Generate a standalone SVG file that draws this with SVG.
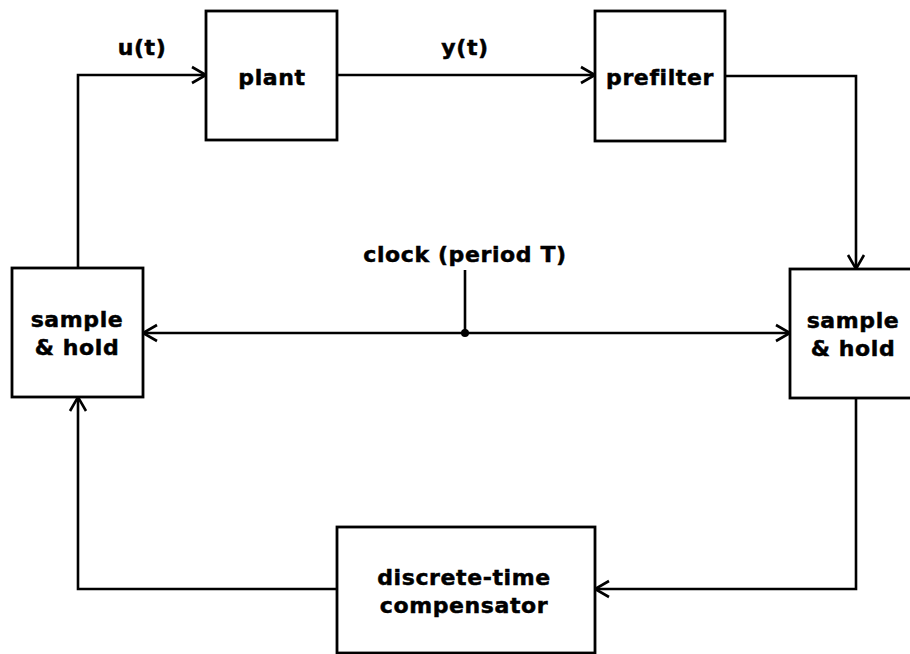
<svg xmlns="http://www.w3.org/2000/svg" width="910" height="654" viewBox="0 0 910 654">
<style>
.box{fill:#fff;stroke:#000;stroke-width:2.8}
.ln{fill:none;stroke:#000;stroke-width:2.6}
.t{font-family:"DejaVu Sans","Liberation Sans",sans-serif;font-weight:bold;font-size:22px;letter-spacing:0.6px;fill:#000;stroke:#000;stroke-width:0.5;text-anchor:middle}
</style>
<defs>
<marker id="arr" markerUnits="userSpaceOnUse" markerWidth="20" markerHeight="20" viewBox="-16 -10 18 20" refX="0" refY="0" orient="auto">
<path d="M-14,-8 L0,0 L-14,8" fill="none" stroke="#000" stroke-width="2.6"/>
</marker>
</defs>
<rect width="910" height="654" fill="#fff"/>
<g id="connectors">
<polyline class="ln" points="78,268 78,75 206,75" marker-end="url(#arr)"/>
<line class="ln" x1="337" y1="75" x2="595" y2="75" marker-end="url(#arr)"/>
<polyline class="ln" points="725,76 856,76 856,269" marker-end="url(#arr)"/>
<polyline class="ln" points="856,398 856,589 595,589" marker-end="url(#arr)"/>
<polyline class="ln" points="337,589 78,589 78,397" marker-end="url(#arr)"/>
<line class="ln" x1="465" y1="333" x2="143" y2="333" marker-end="url(#arr)"/>
<line class="ln" x1="465" y1="333" x2="790" y2="333" marker-end="url(#arr)"/>
<line class="ln" x1="465" y1="333" x2="465" y2="270"/>
<circle cx="465" cy="333" r="4" fill="#000"/>
<text class="t" x="142" y="55">u(t)</text>
<text class="t" x="465" y="55">y(t)</text>
<text class="t" x="465" y="262">clock (period T)</text>
</g>
<g id="plant">
<rect class="box" x="206" y="11" width="131" height="129"/>
<text class="t" x="272" y="85">plant</text>
</g>
<g id="prefilter">
<rect class="box" x="595" y="11" width="130" height="130"/>
<text class="t" x="660" y="85">prefilter</text>
</g>
<g id="sh-left">
<rect class="box" x="12" y="268" width="131" height="129"/>
<text class="t" x="77" y="327">sample</text>
<text class="t" x="77" y="355">&amp; hold</text>
</g>
<g id="sh-right">
<rect class="box" x="790" y="269" width="131" height="129"/>
<text class="t" x="853" y="328">sample</text>
<text class="t" x="853" y="356">&amp; hold</text>
</g>
<g id="compensator">
<rect class="box" x="337" y="527" width="258" height="126"/>
<text class="t" x="464" y="585">discrete-time</text>
<text class="t" x="464" y="613">compensator</text>
</g>
</svg>
